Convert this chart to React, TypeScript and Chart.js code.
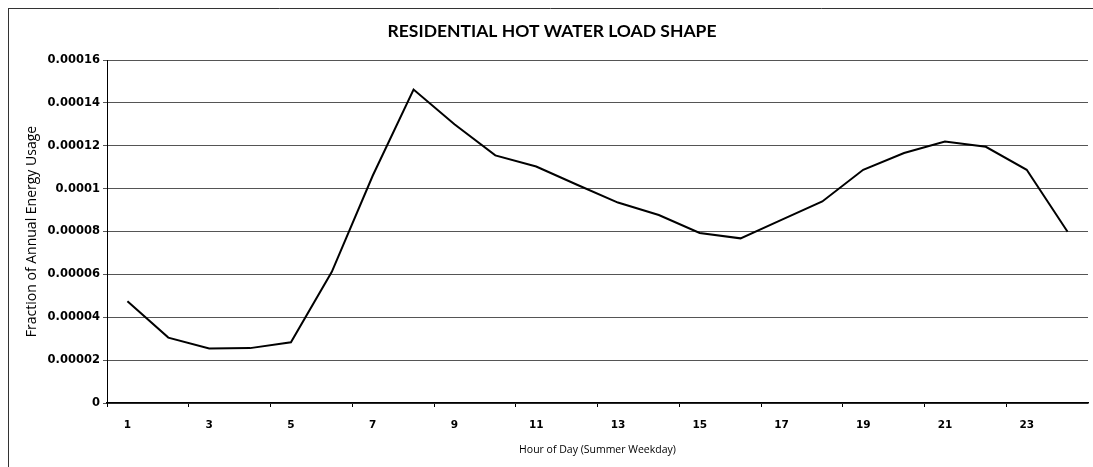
import React, { useEffect, useRef } from "react";
import { Chart, registerables } from "chart.js";

Chart.register(...registerables);

const hours = ["1","2","3","4","5","6","7","8","9","10","11","12","13","14","15","16","17","18","19","20","21","22","23","24"];
const loadFraction = [
  0.0000475, 0.0000305, 0.0000254, 0.0000256, 0.0000283, 0.0000612, 0.000106, 0.0001462,
  0.0001300, 0.0001155, 0.0001103, 0.0001018, 0.0000935, 0.0000877, 0.0000793, 0.0000768,
  0.0000854, 0.0000940, 0.0001088, 0.0001166, 0.0001220, 0.0001195, 0.0001088, 0.0000799,
];
const yTickLabels = ["0", "0.00002", "0.00004", "0.00006", "0.00008", "0.0001", "0.00012", "0.00014", "0.00016"];
const chartTitle = "RESIDENTIAL HOT WATER LOAD SHAPE";
const xTitle = "Hour of Day (Summer Weekday)";
const yTitle = "Fraction of Annual Energy Usage";

export default function App() {
  const ref = useRef<HTMLCanvasElement | null>(null);
  useEffect(() => {
    if (!ref.current) return;
    const decor = {
      id: "decor",
      afterDraw(chart: any) {
        const ctx = chart.ctx;
        ctx.save();
        ctx.strokeStyle = "#333";
        ctx.lineWidth = 1;
        ctx.beginPath();
        ctx.moveTo(8, 8.5);
        ctx.lineTo(1093, 8.5);
        ctx.moveTo(8.5, 8);
        ctx.lineTo(8.5, 467);
        ctx.stroke();
        ctx.fillStyle = "#000";
        ctx.font = "bold 17.5px Lato";
        ctx.textAlign = "center";
        ctx.textBaseline = "middle";
        ctx.fillText(chartTitle, 552, 31);
        ctx.restore();
      },
    };
    const chart = new Chart(ref.current, {
      type: "line",
      data: {
        labels: hours,
        datasets: [
          {
            data: loadFraction,
            borderColor: "#000",
            borderWidth: 2,
            pointRadius: 0,
            tension: 0,
            fill: false,
          },
        ],
      },
      options: {
        animation: false,
        responsive: false,
        maintainAspectRatio: false,
        layout: { padding: { left: 0, right: 5, top: 60, bottom: 0 } },
        plugins: {
          legend: { display: false },
          tooltip: { enabled: false },
          title: { display: false },
        },
        scales: {
          x: {
            type: "category",
            offset: true,
            afterFit(scale: any) {
              scale.height = 64;
            },
            grid: {
              offset: true,
              drawOnChartArea: false,
              drawTicks: true,
              tickLength: 4,
              color: (c: any) => (c.index % 2 === 0 ? "#000" : "rgba(0,0,0,0)"),
            },
            border: { color: "#000", width: 1.5 },
            ticks: {
              autoSkip: false,
              maxRotation: 0,
              padding: 12,
              color: "#000",
              font: { family: "DejaVu Sans", weight: "bold", size: 10.5 },
              callback: (_v: any, i: number) => (i % 2 === 0 ? hours[i] : ""),
            },
            title: {
              display: true,
              text: xTitle,
              color: "#000",
              font: { family: "Open Sans", size: 10.5 },
              padding: { top: 0, bottom: 10.7 },
            },
          },
          y: {
            min: 0,
            max: 0.00016,
            afterFit(scale: any) {
              scale.width = 107;
            },
            grid: {
              color: "#555",
              lineWidth: 1,
              tickLength: 4,
            },
            border: { color: "#000", width: 1 },
            ticks: {
              stepSize: 0.00002,
              padding: 3,
              color: "#000",
              font: { family: "DejaVu Sans", weight: "bold", size: 11.5 },
              callback: (_v: any, i: number) => yTickLabels[i],
            },
            title: {
              display: true,
              text: yTitle,
              color: "#000",
              font: { family: "Open Sans", size: 14 },
              padding: { top: 23.5, bottom: 0 },
            },
          },
        },
      },
      plugins: [decor],
    });
    return () => chart.destroy();
  }, []);
  return (
    <div style={{ position: "fixed", left: 0, top: 0, width: 1093, height: 467, background: "#fff" }}>
      <canvas ref={ref} width={1093} height={467} style={{ width: 1093, height: 467, display: "block" }} />
    </div>
  );
}
